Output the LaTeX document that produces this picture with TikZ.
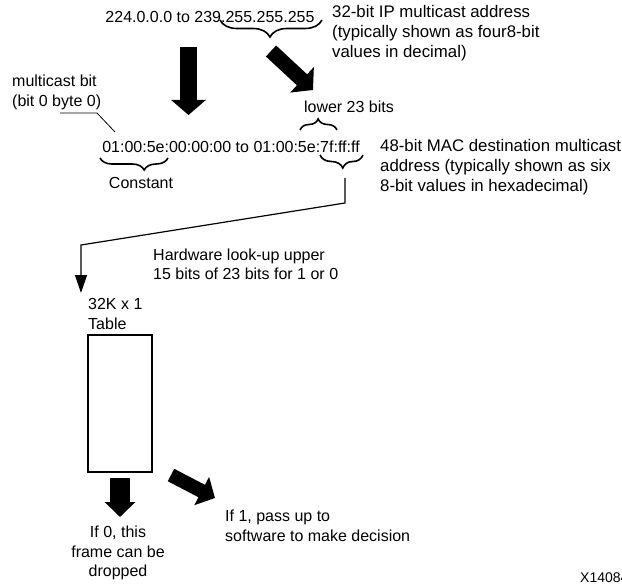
\documentclass[tikz,border=0pt]{standalone}
\usepackage{fontspec}
\setmainfont{Liberation Sans}
\usetikzlibrary{arrows.meta, positioning, decorations.pathreplacing}

\begin{document}
\begin{tikzpicture}[
  x=1pt, y=-1pt,
  every node/.style={inner sep=0pt, font=\fontsize{16}{19.5}\selectfont},
  txt/.style={align=left, anchor=west},
  note/.style={txt, font=\fontsize{16.8}{20}\selectfont},
  bigarrow/.style n args={2}{line width=#1, -{Triangle[length=15pt, width=#2]}},
  brc/.style n args={2}{decorate, decoration={brace, amplitude=#1, aspect=#2}, line width=1.6pt},
  link/.style={line width=1.2pt, -{Triangle[length=18pt, width=12pt]}}
  ]
\useasboundingbox (0,0) rectangle (622,586);

% Nodes
\node (ip) at (210,17) {224.0.0.0 to 239.255.255.255};
\node[note] (ipnote) at (332,33) {32-bit IP multicast address\\(typically shown as four8-bit\\values in decimal)};
\node (lower) at (349,107) {lower 23 bits};
\node (mac) at (231,147) {01:00:5e:00:00:00 to 01:00:5e:7f:ff:ff};
\node[note] (macnote) at (380,167) {48-bit MAC destination multicast\\address (typically shown as six\\8-bit values in hexadecimal)};
\node[txt] (mbit) at (12,92.5) {multicast bit\\(bit 0 byte 0)};
\node (const) at (141,183) {Constant};
\node[txt] (hw) at (153,264.5) {Hardware look-up upper\\15 bits of 23 bits for 1 or 0};
\node[txt] (size) at (88,314) {32K x 1\\Table};
\node[draw, line width=2pt, minimum width=64pt, minimum height=137pt] (table) at (120,403.5) {};
\node[align=center] (drop) at (118,553) {If 0, this\\frame can be\\dropped};
\node[txt] (pass) at (225,526) {If 1, pass up to\\software to make decision};
\node[anchor=west, font=\fontsize{14}{16}\selectfont] (fig) at (580,578) {X14084};

% Points
\coordinate (ipdown) at (188.5,47);
\coordinate (macup) at (188.5,115);
\coordinate (lowstart) at (271,51);
\coordinate (lowend) at (313,90);
\coordinate (ffcusp) at (345,178);
\coordinate (bend) at (81,245);
\coordinate (sizetop) at (81,293);
\coordinate (zeroout) at (120,478);
\coordinate (zeroend) at (120,517);
\coordinate (oneout) at (171,475);
\coordinate (oneend) at (215,498);
\coordinate (bitline) at (60,113);
\coordinate (bitknee) at (97,113);
\coordinate (bitend) at (115,132);

% Braces
\draw[brc={17pt}{0.49}, decoration={mirror}] (220,20) -- (322,20);
\draw[brc={11pt}{0.49}] (300,130) -- (337,130);
\draw[brc={13pt}{0.53}, decoration={mirror}] (320,155) -- (363,155);
\draw[brc={12pt}{0.65}, decoration={mirror}] (100,158) -- (168,158);

% Edges
\draw[bigarrow={17pt}{34pt}] (ipdown) -- (macup);
\draw[bigarrow={15pt}{34pt}] (lowstart) -- (lowend);
\draw[bigarrow={20pt}{30pt}] (zeroout) -- (zeroend);
\draw[bigarrow={14pt}{31pt}] (oneout) -- (oneend);
\draw[line width=0.8pt] (bitline) -- (bitknee) -- (bitend);
\draw[link] (ffcusp) -- (ffcusp |- 0,203) -- (bend) -- (sizetop);

\end{tikzpicture}
\end{document}
